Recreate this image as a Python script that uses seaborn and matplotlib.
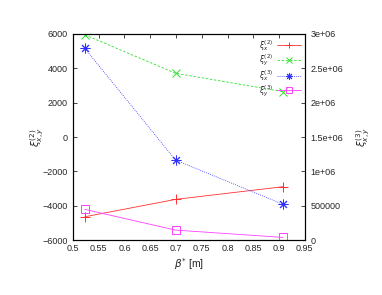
import matplotlib
matplotlib.use("Agg")
import matplotlib.pyplot as plt
from matplotlib.lines import Line2D
import seaborn as sns
import pandas as pd

# ====================== DATA ======================
beta_star = [0.523, 0.699, 0.908]
xi2_x = [-4640, -3630, -2890]
xi2_y = [5950, 3710, 2640]
xi3_x = [2.79e6, 1.165e6, 0.52e6]
xi3_y = [0.447e6, 0.146e6, 0.039e6]

labels = [r'$\xi_x^{(2)}$', r'$\xi_y^{(2)}$', r'$\xi_x^{(3)}$', r'$\xi_y^{(3)}$']

sns.set_style("white")
plt.rcParams['font.family'] = ['Liberation Sans', 'DejaVu Sans']
plt.rcParams['mathtext.fontset'] = 'dejavusans'
plt.rcParams['font.size'] = 6.5

fig = plt.figure(figsize=(3.82, 2.95), dpi=100)
ax = fig.add_axes([0.191, 0.186, 0.607, 0.699])
ax2 = ax.twinx()

series = [
    (labels[0], xi2_x, ax, dict(color="#ff3030", marker="+", ls="-", ms=7)),
    (labels[1], xi2_y, ax, dict(color="#30e030", marker="x", ls=(0, (3, 2)), ms=6)),
    (labels[2], xi3_x, ax2, dict(color="#3030ff", marker=(8, 2, 0), ls=(0, (1, 1.5)), ms=7)),
    (labels[3], xi3_y, ax2, dict(color="#ff40ff", marker="s", ls="-", ms=6)),
]

handles = []
for name, vals, a, st in series:
    d = pd.DataFrame({"beta": beta_star, "val": vals})
    sns.lineplot(data=d, x="beta", y="val", ax=a, color=st["color"],
                 linewidth=0.6, linestyle=st["ls"], legend=False)
    # markers drawn as plain Line2D markers so the edge colour is kept
    a.plot(d["beta"], d["val"], ls="none", marker=st["marker"], ms=st["ms"],
           mfc="none", mec=st["color"], mew=0.7)
    handles.append(Line2D([], [], color=st["color"], lw=0.6, ls=st["ls"],
                          marker=st["marker"], ms=5, mfc="none", mec=st["color"], mew=0.7))

ax.set_xlim(0.5, 0.95)
ax.set_ylim(-6000, 6000)
ax2.set_ylim(0, 3e6)
ax.set_xticks([0.5, 0.55, 0.6, 0.65, 0.7, 0.75, 0.8, 0.85, 0.9, 0.95])
ax.set_xticklabels(["0.5", "0.55", "0.6", "0.65", "0.7", "0.75", "0.8", "0.85", "0.9", "0.95"])
ax.set_yticks(range(-6000, 6001, 2000))
ax2.set_yticks([0, 5e5, 1e6, 1.5e6, 2e6, 2.5e6, 3e6])
ax2.set_yticklabels(["0", "500000", "1e+06", "1.5e+06", "2e+06", "2.5e+06", "3e+06"])

ax.tick_params(axis="x", direction="in", top=True, length=3, width=0.6, labelsize=6.5, pad=3)
ax.tick_params(axis="y", direction="in", length=3, width=0.6, labelsize=6.5, right=False, pad=4)
ax2.tick_params(axis="y", direction="in", length=3, width=0.6, labelsize=6.5, right=True, pad=4)

for a in (ax, ax2):
    a.set_xlabel("")
    a.set_ylabel("")
    for s in a.spines.values():
        s.set_linewidth(0.8)
        s.set_color("black")

ax.set_xlabel(r'$\beta^{*}$ [m]', fontsize=7.5, labelpad=2)
ax.set_ylabel(r'$\xi_{x,y}^{(2)}$', fontsize=7.5)
ax2.set_ylabel(r'$\xi_{x,y}^{(3)}$', fontsize=7.5)
ax.yaxis.set_label_coords(-0.116, 0.5)
ax2.yaxis.set_label_coords(1.216, 0.5)

ax2.legend(handles, labels, loc="upper right", frameon=False, markerfirst=False,
           fontsize=5.5, handlelength=3.2, labelspacing=0.0, borderaxespad=0.3,
           borderpad=0.2, handletextpad=0.4)

fig.savefig("out.png", dpi=100)
